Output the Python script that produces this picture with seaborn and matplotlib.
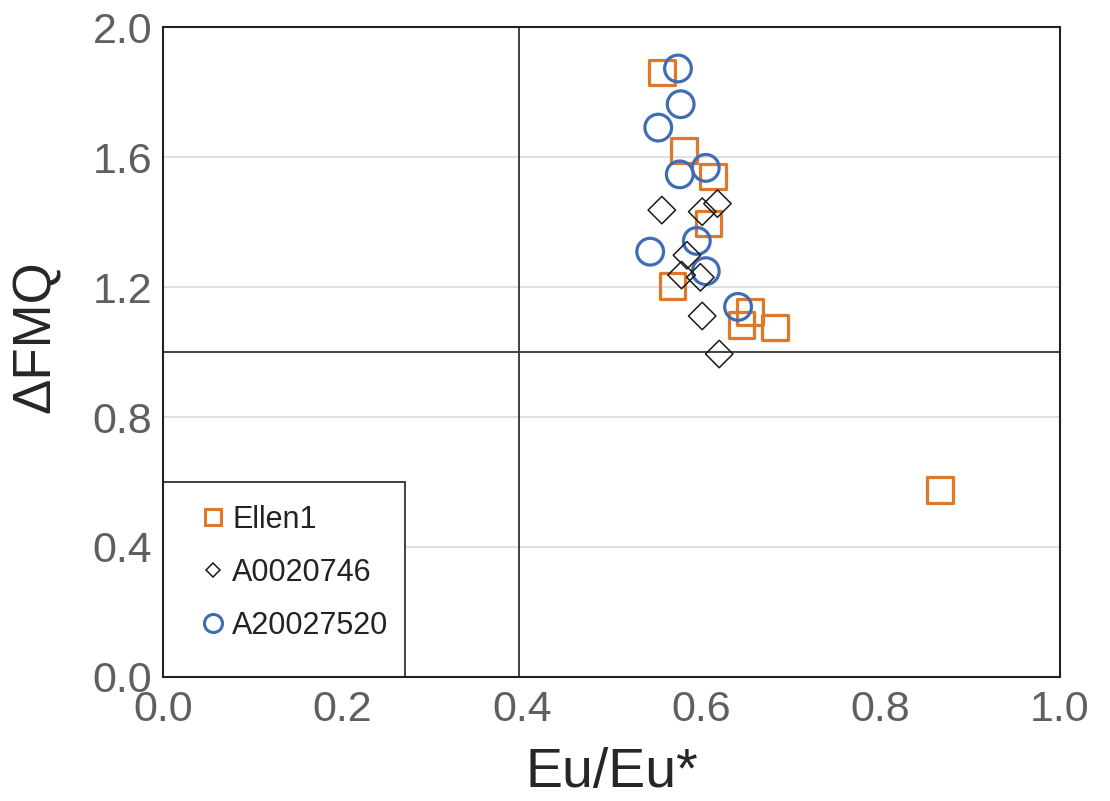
import matplotlib
matplotlib.use("Agg")
import matplotlib.pyplot as plt
from matplotlib.lines import Line2D
from matplotlib.patches import Rectangle
import seaborn as sns
import pandas as pd

sns.set_style("white")
plt.rcParams['font.family'] = ['Liberation Sans', 'DejaVu Sans']

# ---- data ----
ellen1_x = [0.556, 0.581, 0.613, 0.608, 0.568, 0.654, 0.645, 0.682, 0.866]
ellen1_y = [1.861, 1.621, 1.540, 1.396, 1.204, 1.124, 1.083, 1.076, 0.575]

a20027520_x = [0.574, 0.577, 0.552, 0.576, 0.605, 0.595, 0.543, 0.605, 0.641]
a20027520_y = [1.873, 1.763, 1.691, 1.547, 1.567, 1.342, 1.309, 1.249, 1.139]

a0020746_x = [0.556, 0.601, 0.618, 0.584, 0.578, 0.599, 0.601, 0.620]
a0020746_y = [1.437, 1.432, 1.457, 1.298, 1.237, 1.230, 1.111, 0.994]

series_names = ["Ellen1", "A0020746", "A20027520"]
x_ticks = [0.0, 0.2, 0.4, 0.6, 0.8, 1.0]
y_ticks = [0.0, 0.4, 0.8, 1.2, 1.6, 2.0]
grid_y = [0.4, 0.8, 1.2, 1.6]
ref_x = 0.397
ref_y = 1.0
legend_box_w = 0.27
legend_box_h = 0.6

ORANGE = "#E0782B"
BLUE = "#3E6DB5"
BLACK = "#1a1a1a"

df_e = pd.DataFrame({"x": ellen1_x, "y": ellen1_y})
df_b = pd.DataFrame({"x": a20027520_x, "y": a20027520_y})
df_d = pd.DataFrame({"x": a0020746_x, "y": a0020746_y})

fig = plt.figure(figsize=(11.10, 8.01), dpi=100)
ax = fig.add_axes([0.147, 0.155, 0.808, 0.811])

for gy in grid_y:
    ax.axhline(gy, color="#D9D9D9", lw=1.2, zorder=0)
ax.axhline(ref_y, color="#333333", lw=1.3, zorder=1)
ax.axvline(ref_x, color="#333333", lw=1.3, zorder=1)

ax.add_patch(Rectangle((0, 0), legend_box_w, legend_box_h, facecolor="white",
                       edgecolor="#333333", lw=1.3, zorder=2))

sns.scatterplot(data=df_e, x="x", y="y", marker="s", s=340, facecolor="none",
                edgecolor=ORANGE, linewidth=2.3, ax=ax, zorder=3, legend=False)
sns.scatterplot(data=df_b, x="x", y="y", marker="o", s=370, facecolor="none",
                edgecolor=BLUE, linewidth=2.3, ax=ax, zorder=4, legend=False)
sns.scatterplot(data=df_d, x="x", y="y", marker="D", s=195, facecolor="none",
                edgecolor=BLACK, linewidth=1.1, ax=ax, zorder=5, legend=False)

ax.set_xlim(0, 1.0)
ax.set_ylim(0, 2.0)
ax.set_xticks(x_ticks)
ax.set_yticks(y_ticks)
ax.set_xticklabels([f"{v:.1f}" for v in x_ticks])
ax.set_yticklabels([f"{v:.1f}" for v in y_ticks])
ax.tick_params(axis="both", length=0, labelsize=31, labelcolor="#5f5f5f")
ax.tick_params(axis="x", pad=9.5)
ax.tick_params(axis="y", pad=8)
ax.set_xlabel("Eu/Eu*", fontsize=40, labelpad=12)
ax.set_ylabel("ΔFMQ", fontsize=38)
ax.yaxis.set_label_coords(-0.114, 0.523)
for sp in ax.spines.values():
    sp.set_color("#222222")
    sp.set_linewidth(1.5)
    sp.set_visible(True)

handles = [
    Line2D([], [], marker="s", ls="none", ms=12, mfc="none", mec=ORANGE, mew=2.2),
    Line2D([], [], marker="D", ls="none", ms=7.6, mfc="none", mec=BLACK, mew=1.1),
    Line2D([], [], marker="o", ls="none", ms=13, mfc="none", mec=BLUE, mew=2.2),
]
leg = ax.legend(handles, series_names, loc="upper left", bbox_to_anchor=(0.0457, 0.265),
                frameon=False, fontsize=22, handlelength=0.6, handletextpad=0.32,
                labelspacing=0.75, borderpad=0, borderaxespad=0)
leg.set_zorder(6)
for t in leg.get_texts():
    t.set_color("#222222")

fig.savefig("out.png", dpi=100)
